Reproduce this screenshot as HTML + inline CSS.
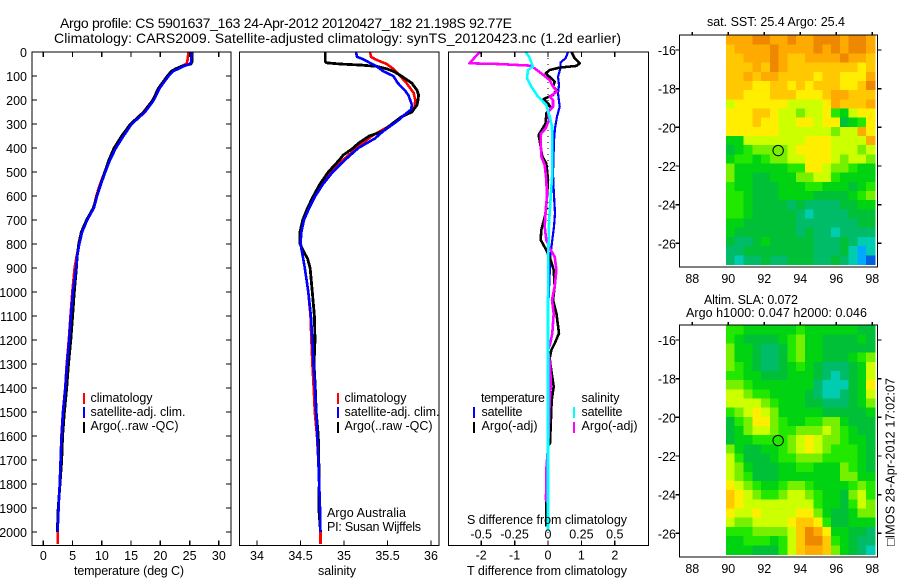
<!DOCTYPE html>
<html>
<head>
<meta charset="utf-8">
<title>Argo profile</title>
<style>
html,body{margin:0;padding:0;background:#fff;}
svg{display:block;}
text{font-family:"Liberation Sans",sans-serif;fill:#000;font-size:12.5px;}
.ttl{font-size:14px;}
</style>
</head>
<body>
<svg id="chart" xmlns="http://www.w3.org/2000/svg" width="900" height="580" viewBox="0 0 900 580">
<text class="ttl" x="60" y="28" textLength="452">Argo profile: CS 5901637_163 24-Apr-2012 20120427_182 21.198S 92.77E</text>
<text class="ttl" x="54" y="43" textLength="567">Climatology: CARS2009. Satellite-adjusted climatology: synTS_20120423.nc (1.2d earlier)</text>
<g id="layer-heat"></g>
<g id="layer-lines"></g>
<g id="layer-axes"></g>

<text x="74" y="575" textLength="110">temperature (deg C)</text>
<text x="318" y="575" textLength="38">salinity</text>
<text x="467" y="575" textLength="160">T difference from climatology</text>
<text x="467" y="524" textLength="160">S difference from climatology</text>

<rect x="83" y="393" width="2" height="11" fill="#ff0000"/>
<rect x="83" y="407" width="2" height="11" fill="#0000ff"/>
<rect x="83" y="422" width="2" height="11" fill="#000"/>
<text x="90.5" y="402" textLength="62">climatology</text>
<text x="90.5" y="416" textLength="95">satellite-adj. clim.</text>
<text x="90.5" y="430" textLength="88">Argo(..raw -QC)</text>

<rect x="337" y="393" width="2" height="11" fill="#ff0000"/>
<rect x="337" y="407" width="2" height="11" fill="#0000ff"/>
<rect x="337" y="422" width="2" height="11" fill="#000"/>
<text x="344.5" y="402" textLength="62">climatology</text>
<text x="344.5" y="416" textLength="95">satellite-adj. clim.</text>
<text x="344.5" y="430" textLength="88">Argo(..raw -QC)</text>
<text x="327" y="517" textLength="79">Argo Australia</text>
<text x="327" y="531" textLength="94">PI: Susan Wijffels</text>

<text x="481" y="402" textLength="64">temperature</text>
<text x="481.5" y="416" textLength="41">satellite</text>
<text x="481.5" y="430" textLength="56">Argo(-adj)</text>
<text x="581.5" y="402" textLength="38">salinity</text>
<text x="581.5" y="416" textLength="41">satellite</text>
<text x="581.5" y="430" textLength="56">Argo(-adj)</text>
<rect x="473" y="407" width="2" height="11" fill="#0000ff"/>
<rect x="473" y="422" width="2" height="11" fill="#000"/>
<rect x="573" y="407" width="2" height="11" fill="#00ffff"/>
<rect x="573" y="422" width="2" height="11" fill="#ff00ff"/>

<text x="707" y="26" textLength="138">sat. SST: 25.4 Argo: 25.4</text>
<text x="704" y="304" textLength="94">Altim. SLA: 0.072</text>
<text x="686" y="317" textLength="181">Argo h1000: 0.047 h2000: 0.046</text>
<text transform="translate(894.5,546) rotate(-90)" x="0" y="0" textLength="168">□IMOS 28-Apr-2012 17:02:07</text>
</svg>
<script>
// ---------- temperature profile data ----------
const tDepths = [0,20,40,50,60,70,80,100,120,150,200,250,300,350,400,450,500,550,600,650,700,750,800,850,900,1000,1100,1200,1300,1400,1500,1600,1700,1800,1900,2000];
const tSatellite = [25.4,25.3,25.3,25.05,23.9,23.1,22.2,21.4,20.8,19.9,18.9,17.4,15.1,13.7,12.4,11.4,10.6,9.85,9.2,8.65,7.5,6.65,6.15,5.8,5.6,5.05,4.7,4.4,4.05,3.76,3.36,3.13,2.96,2.8,2.62,2.45];
const tArgo = [25.45,25.45,25.45,25.2,23.6,22.6,21.9,21.2,20.6,19.7,18.7,17.2,14.9,13.4,12.1,11.2,10.5,9.8,9.15,8.55,7.4,6.5,6.05,5.8,5.65,5.3,5.0,4.7,4.3,4.0,3.6,3.3,3.15,2.85,2.55,2.4];
const tClimDepths = [0,20,40,50,60,70,80,100,120,150,200,250,300,350,400,450,500,550,600,650,700,750,800,850,900,1000,1100,1200,1300,1400,1500,1600,1700,1800,1900,2000,2050];
const tClim = [24.8,24.7,24.6,24.4,23.5,22.9,22.1,21.4,20.6,19.7,18.7,17.1,15.0,13.6,12.4,11.4,10.5,9.7,9.05,8.6,7.5,6.6,6.1,5.7,5.35,4.95,4.65,4.35,4.0,3.75,3.35,3.1,2.95,2.8,2.6,2.45,2.45];

// ---------- salinity profile data ----------
const sArgoDepths = [0,40,45,50,55,60,70,80,100,130,160,180,200,220,250,270,300,330,350,380,400,430,450,500,550,600,650,700,750,800,830,860,900,1000,1100,1200,1300,1400,1500,1600,1700,1800,1900,2000];
const sArgo = [34.785,34.785,34.8,34.954,35.22,35.375,35.49,35.567,35.66,35.78,35.84,35.858,35.85,35.84,35.78,35.66,35.55,35.45,35.29,35.165,35.107,34.99,34.946,34.82,34.724,34.648,34.58,34.525,34.494,34.494,34.533,34.58,34.61,34.636,34.66,34.667,34.655,34.67,34.68,34.705,34.71,34.715,34.71,34.73];
const sSatDepths = [0,20,30,60,80,100,130,160,180,220,240,260,280,300,330,360,400,450,500,550,600,650,700,750,800,850,900,1000,1100,1200,1300,1400,1500,1600,1700,1800,1900,2000];
const sSatellite = [35.138,35.15,35.22,35.375,35.45,35.567,35.62,35.7,35.74,35.78,35.77,35.7,35.64,35.567,35.45,35.356,35.165,35.01,34.87,34.76,34.67,34.6,34.54,34.51,34.5,34.525,34.55,34.59,34.62,34.636,34.65,34.667,34.68,34.693,34.705,34.715,34.724,34.728];
const sClimDepths = [0,20,30,50,70,90,130,170,200,230,250,300,350,400,450,500,550,600,700,750,800,850,900,1000,1100,1200,1300,1400,1500,1600,1700,1800,1900,2000,2050];
const sClim = [35.3,35.31,35.356,35.49,35.567,35.62,35.72,35.8,35.82,35.81,35.74,35.56,35.32,35.145,34.99,34.85,34.73,34.655,34.53,34.505,34.505,34.525,34.55,34.59,34.615,34.625,34.637,34.652,34.664,34.69,34.705,34.715,34.722,34.73,34.73];

// ---------- difference panel data ----------
const dTSatDepths = [0,26,44,68,103,138,172,228,269,318,367,506,575,672,728,783,839,922,1061,1200,1990];
const dTSatellite = [0.6,0.53,0.37,0.37,0.3,0.33,0.3,0.35,0.27,0.21,0.18,0.15,0.17,0.21,0.18,0.13,0.08,0.05,0.01,0,0];
const dTArgoDepths = [0,26,47,58,65,75,89,110,124,144,158,179,196,214,235,256,297,346,367,436,464,533,603,672,742,783,825,867,908,978,1033,1089,1172,1214,1242,1276,1311,1394,1450,1630,1640,1900,1977];
const dTArgo = [0.7,0.8,0.95,0.85,0.35,0.05,-0.07,0.1,0.2,0.15,0.25,0.15,-0.13,0,0.1,-0.05,-0.07,-0.28,-0.25,-0.17,-0.05,0,-0.03,-0.07,-0.2,-0.22,-0.05,0.08,0.17,0.2,0.15,0.25,0.33,0.2,0.1,0.05,0.08,0.17,0.11,0.06,0,-0.05,-0.05];
const dSArgoDepths = [0,19,47,50,57,68,89,117,144,165,186,200,228,249,283,318,342,367,436,471,533,603,658,728,783,818,853,908,978,1033,1089,1172,1214,1242,1311,1394,1450,1630,1741,1866,1880,1990];
const dSArgo = [-0.5075,-0.5425,-0.5875,-0.375,-0.125,-0.1,-0.05,0.0125,0.0375,0.0675,0.0125,0.0375,0.0375,0,0.0075,-0.0175,-0.055,-0.055,-0.05,-0.025,-0.0125,-0.0075,-0.0175,-0.025,-0.0125,0.0125,0.05,0.0625,0.05,0.03,0.0425,0.0325,0.0175,0,0.0175,0.02,0.0125,0.0025,-0.0125,-0.015,0,0];
const dSSatDepths = [0,19,61,75,110,144,186,221,269,311,367,506,603,714,839,1061,1992];
const dSSatellite = [-0.1675,-0.1425,-0.1125,-0.15,-0.1575,-0.125,-0.075,-0.0125,0.0125,0.03,0.0325,0.0325,0.02,0.0075,0.0025,0,0];

// ---------- tick labels ----------
const depthTicks = [0,100,200,300,400,500,600,700,800,900,1000,1100,1200,1300,1400,1500,1600,1700,1800,1900,2000];
const tempTicks = [0,5,10,15,20,25,30];
const salTicks = [34,34.5,35,35.5,36];
const dTTicks = [-2,-1,0,1,2];
const dSTicks = [-0.5,-0.25,0,0.25,0.5];
const lonTicks = [88,90,92,94,96,98];
const latTicks = [-16,-18,-20,-22,-24,-26];

// ---------- map data (colour-level per cell, north to south) ----------
const sstLevels = [
[11,11,11,12,12,11,11,12,11,11,12,12,12,11,12,12,11],
[10,11,11,11,11,12,11,11,11,11,12,11,12,11,12,12,11],
[10,10,11,11,11,12,11,10,10,11,11,11,11,12,11,11,10],
[10,10,10,11,10,12,11,10,10,10,10,10,10,10,10,9,10],
[10,10,11,10,11,11,10,10,10,10,9,10,10,9,9,9,11],
[10,10,10,9,9,10,10,9,10,9,10,10,10,9,9,10,12],
[10,10,9,9,9,10,10,10,9,9,9,10,11,11,10,10,10],
[8,9,9,9,9,9,9,8,8,8,8,9,11,10,10,10,11],
[9,9,9,10,10,9,8,8,7,8,8,9,6,5,8,9,9],
[9,9,9,10,9,9,8,8,9,9,8,9,9,4,5,6,9],
[9,9,9,9,9,9,8,8,8,8,8,8,7,8,8,11,9],
[5,5,8,8,8,8,8,8,8,9,9,9,8,8,8,8,11],
[4,5,6,7,7,7,7,8,9,9,9,9,8,8,8,7,8],
[5,6,6,5,6,7,7,8,8,9,9,9,8,7,8,8,7],
[7,5,5,5,5,5,5,6,6,9,9,8,7,7,6,5,5],
[7,5,5,4,4,5,5,5,7,7,8,8,6,5,5,5,5],
[6,5,5,4,4,4,5,5,5,6,6,5,5,5,4,5,6],
[6,6,5,4,4,4,5,5,5,5,4,4,4,4,5,6,7],
[6,6,5,4,4,4,4,3,4,3,3,3,3,4,4,5,5],
[6,6,5,4,4,4,4,4,3,2,3,3,3,3,4,4,4],
[5,5,4,4,4,4,4,4,3,3,3,3,3,3,3,4,4],
[5,4,4,4,4,4,4,4,3,4,3,3,2,3,3,3,3],
[4,3,3,4,5,4,4,4,4,4,3,3,3,4,3,2,2],
[3,3,4,4,4,4,4,4,4,4,3,3,3,4,2,1,2],
[3,2,3,3,4,3,3,4,4,4,3,3,4,3,2,1,0]
];
const slaLevels = [
[6,6,5,5,5,5,5,5,6,5,5,5,5,5,5,4,4],
[6,5,4,4,4,4,5,6,7,5,5,4,4,4,4,5,4],
[7,5,5,4,3,3,4,6,7,5,5,4,4,4,4,4,4],
[7,5,5,4,3,3,4,6,7,5,5,4,4,4,5,6,7],
[7,6,5,4,3,3,4,5,6,5,4,3,3,3,4,5,8],
[6,6,5,5,4,4,4,5,5,5,4,3,2,3,4,5,8],
[7,7,6,5,5,5,5,5,5,5,3,2,2,2,4,5,9],
[8,8,7,6,6,5,5,5,5,4,3,2,2,3,4,5,8],
[8,8,8,8,7,6,5,5,5,4,4,3,3,3,4,5,7],
[6,7,8,9,8,7,5,5,5,5,5,4,4,4,4,4,5],
[4,6,7,9,9,7,6,5,5,6,6,7,7,5,4,4,4],
[4,5,7,8,8,7,6,6,7,7,7,8,7,6,5,4,4],
[4,5,5,6,6,6,6,7,8,9,8,7,7,6,5,5,4],
[7,5,4,4,5,5,6,7,8,9,8,7,6,6,6,5,4],
[8,6,4,4,4,5,6,6,7,7,7,6,6,6,6,5,4],
[8,7,5,4,4,4,5,5,6,6,5,5,5,7,6,5,4],
[8,7,6,4,4,4,5,5,5,5,5,5,5,7,7,5,5],
[9,8,7,6,5,5,6,7,7,6,5,5,5,5,6,7,6],
[10,9,8,7,6,6,7,8,8,7,6,5,5,4,7,8,6],
[10,9,8,8,8,8,8,8,8,8,6,5,5,4,6,8,7],
[9,8,8,9,8,8,8,8,9,9,7,5,4,4,5,7,7],
[8,7,7,8,8,8,8,9,10,10,9,6,4,4,5,5,5],
[6,6,6,7,7,7,7,8,10,12,11,9,5,5,4,4,3],
[5,5,6,6,6,5,6,8,10,12,12,10,6,5,4,3,3],
[5,5,5,4,4,4,6,8,10,11,11,10,7,5,4,3,2]
];
const heatColors = ['#0060e0','#00a8ff','#00ccb0','#00bb68','#00c038','#00d412','#22e800','#77f000','#ccff00','#ffee00','#ffc800','#ffaa00','#ee8800'];
const profileLon = [92.77];
const profileLat = [-21.2];

const NS = 'http://www.w3.org/2000/svg';
const heatLayer = document.getElementById('layer-heat');
const lineLayer = document.getElementById('layer-lines');
const axesLayer = document.getElementById('layer-axes');

function mk(tag, attrs, parent){
  const el = document.createElementNS(NS, tag);
  for (const k in attrs) el.setAttribute(k, attrs[k]);
  parent.appendChild(el);
  return el;
}
function yDepth(d){ return 52 + d * 0.24; }
function xTemp(v){ return 43.3 + v * 5.853; }
function xSal(v){ return 257 + (v - 34) * 87; }
function xDT(v){ return 548 + v * 33.4; }
function xDS(v){ return 548 + v * 133.6; }
function xLon(v){ return 692.3 + (v - 88) * 18; }
function yLat(v, top){ return top + 15 + (-16 - v) * 19.33; }

function drawLine(name, xs, depths, xf, color, width){
  let d = '';
  for (let i = 0; i < xs.length; i++) {
    d += (i ? 'L' : 'M') + xf(xs[i]).toFixed(1) + ' ' + yDepth(depths[i]).toFixed(1);
  }
  const p = mk('path', {d: d, fill: 'none', stroke: color, 'stroke-width': width, 'stroke-linejoin': 'round', 'shape-rendering': 'crispEdges'}, lineLayer);
  
  
}
function axisLine(x1, y1, x2, y2){
  const l = mk('line', {x1: x1, y1: y1, x2: x2, y2: y2, stroke: '#000', 'stroke-width': 1.3, 'shape-rendering': 'crispEdges'}, axesLayer);
  
  
}
function frame(x, y, w, h, name){
  const r = mk('rect', {x: x, y: y, width: w, height: h, fill: 'none', stroke: '#000', 'stroke-width': 1.4, 'shape-rendering': 'crispEdges'}, axesLayer);
  
  
}
function label(str, x, y, anchor, name){
  const t = mk('text', {x: x, y: y, 'text-anchor': anchor}, axesLayer);
  t.textContent = str;
  
  
}

// --- lines ---
drawLine('temperature-climatology-line', tClim, tClimDepths, xTemp, '#ff0000', 2.6);
drawLine('temperature-argo-line', tArgo, tDepths, xTemp, '#000', 2.8);
drawLine('temperature-satellite-line', tSatellite, tDepths, xTemp, '#0000ff', 2.6);
drawLine('salinity-climatology-line', sClim, sClimDepths, xSal, '#ff0000', 2.6);
drawLine('salinity-argo-line', sArgo, sArgoDepths, xSal, '#000', 2.8);
drawLine('salinity-satellite-line', sSatellite, sSatDepths, xSal, '#0000ff', 2.6);

const zeroLine = mk('line', {x1: xDT(0), y1: yDepth(0), x2: xDT(0), y2: yDepth(2050), stroke: '#000', 'stroke-width': 1, 'stroke-dasharray': '1 5'}, lineLayer);


drawLine('diff-t-satellite-line', dTSatellite, dTSatDepths, xDT, '#0000ff', 2.2);
drawLine('diff-t-argo-line', dTArgo, dTArgoDepths, xDT, '#000', 2.6);
drawLine('diff-s-argo-line', dSArgo, dSArgoDepths, xDS, '#ff00ff', 2.6);
drawLine('diff-s-satellite-line', dSSatellite, dSSatDepths, xDS, '#00ffff', 2.6);

// --- profile axes ---
const pTop = 52, pBot = 545.5;
frame(32, pTop, 199, pBot - pTop, 'temperature-panel-frame');
frame(239.5, pTop, 199.5, pBot - pTop, 'salinity-panel-frame');
frame(448.5, pTop, 200, pBot - pTop, 'difference-panel-frame');
depthTicks.forEach(function(d){
  const y = yDepth(d);
  if (d > 0) {
    axisLine(32, y, 37, y);
    axisLine(226, y, 231, y);
  }
  label(String(d), 27, y + 5, 'end', 'depth-tick-label');
});
tempTicks.forEach(function(v){
  const x = xTemp(v);
  axisLine(x, pTop, x, pTop + 5);
  axisLine(x, pBot - 5, x, pBot);
  label(String(v), x, 560, 'middle', 'temperature-tick-label');
});
salTicks.forEach(function(v){
  const x = xSal(v);
  axisLine(x, pBot - 5, x, pBot);
  label(String(v), x, 560, 'middle', 'salinity-tick-label');
});
dTTicks.forEach(function(v){
  const x = xDT(v);
  axisLine(x, pTop, x, pTop + 5);
  axisLine(x, pBot - 5, x, pBot);
  label(String(v), x, 559.5, 'middle', 't-diff-tick-label');
});
dSTicks.forEach(function(v){
  label(String(v), xDS(v), 538.5, 'middle', 's-diff-tick-label');
});

// --- maps ---
function drawMap(levels, top, name, markerLevel){
  const lonStart = 89.87, lonStep = 0.487;
  const latStart = -15.23, latStep = 0.4745;
  levels.forEach(function(row, j){
    row.forEach(function(v, i){
      const x0 = xLon(lonStart + i * lonStep);
      const x1 = xLon(lonStart + (i + 1) * lonStep);
      const y0 = yLat(latStart - j * latStep, top);
      const y1 = yLat(latStart - (j + 1) * latStep, top);
      const c = mk('rect', {x: x0.toFixed(2), y: y0.toFixed(2), width: (x1 - x0 + 0.4).toFixed(2), height: (y1 - y0 + 0.4).toFixed(2), fill: heatColors[v], 'shape-rendering': 'crispEdges'}, heatLayer);
      
      
    });
  });
  frame(679.5, top, 198, 232, name + '-frame');
  lonTicks.forEach(function(v){
    const x = xLon(v);
    axisLine(x, top - 3, x, top);
    label(String(v), x, top + 248, 'middle', name + '-lon-label');
  });
  latTicks.forEach(function(v){
    const y = yLat(v, top);
    axisLine(675.5, y, 679.5, y);
    axisLine(877.5, y, 881.5, y);
    label(String(v), 676, y + 5, 'end', name + '-lat-label');
  });
  const m = mk('circle', {cx: xLon(profileLon[0]), cy: yLat(profileLat[0], top), r: 5.2, fill: heatColors[markerLevel], stroke: '#000', 'stroke-width': 1}, axesLayer);
  
  
}
drawMap(sstLevels, 35, 'sst-map', 7);
drawMap(slaLevels, 325, 'sla-map', 6);
</script>
</body>
</html>
